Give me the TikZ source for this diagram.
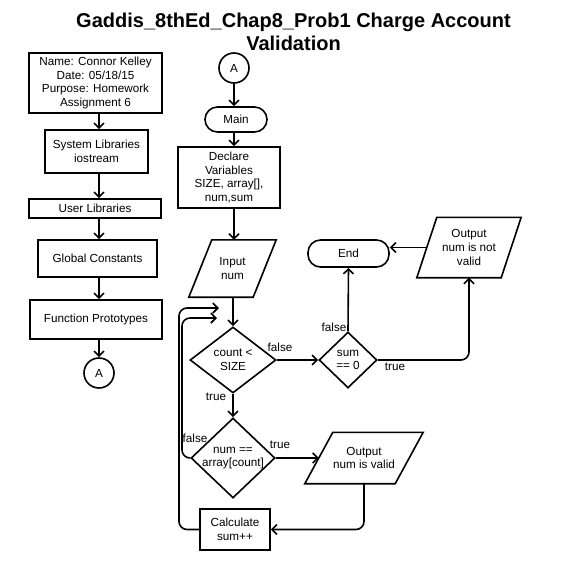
\documentclass[tikz,border=0pt]{standalone}
\usepackage{fontspec}
\setmainfont{Liberation Sans}
\usetikzlibrary{shapes.geometric,arrows.meta}
\newcommand{\bodyfont}{\fontsize{11.7}{13.8}\selectfont}
\newcommand{\pgram}[7]{%
  \node[txt, minimum width=#4, minimum height=#5] (#1) at (#2,#3) {#7};
  \draw[shapeline] ([xshift=-#6/2]#1.south west) -- ([xshift=-#6/2]#1.south east)
     -- ([xshift=#6/2]#1.north east) -- ([xshift=#6/2]#1.north west) -- cycle;
}
\tikzset{
  shapeline/.style={line width=1.6pt, line join=miter},
  base/.style={draw, line width=1.6pt, inner sep=0pt, align=center, font=\bodyfont},
  box/.style={base, rectangle},
  term/.style={base, rectangle, rounded corners=12.5pt},
  conn/.style={base, circle, minimum size=30pt},
  dia/.style={draw, line width=1.6pt, diamond, inner sep=0pt},
  txt/.style={inner sep=0pt, align=center, font=\bodyfont},
  lab/.style={inner sep=0pt, font=\bodyfont},
  arr/.style={line width=1.6pt, rounded corners=8pt, -{Straight Barb[length=5pt,width=10pt,line width=1.6pt]}},
}
\begin{document}
\begin{tikzpicture}[x=1pt,y=-1pt]
\useasboundingbox (0,0) rectangle (565,570);
% title
\node[align=center, inner sep=0pt, font=\fontsize{20}{22.5}\selectfont\bfseries] (title) at (293.5,32)
  {Gaddis\_8thEd\_Chap8\_Prob1 Charge Account\\Validation};
% left column
\coordinate (lx) at (99,0);
\node[box, minimum width=133, minimum height=60] (b1) at (95.5,83)
  {Name: Connor Kelley\\Date: 05/18/15\\Purpose: Homework\\Assignment 6};
\node[box, minimum width=103, minimum height=43] (b2) at (96.5,151.5) {System Libraries\\iostream};
\node[box, minimum width=132, minimum height=19] (b3) at (95,208.5) {User Libraries};
\node[box, minimum width=119, minimum height=37] (b4) at (97.5,258.5) {Global Constants};
\node[box, minimum width=132, minimum height=39] (b5) at (96,319.5) {Function Prototypes};
\node[conn] (A2) at (99,373) {A};
\draw[arr] (b1.south -| lx) -- (b2.north -| lx);
\draw[arr] (b2.south -| lx) -- (b3.north -| lx);
\draw[arr] (b3.south -| lx) -- (b4.north -| lx);
\draw[arr] (b4.south -| lx) -- (b5.north -| lx);
\draw[arr] (b5.south -| lx) -- (A2.north);
% main column
\coordinate (mx) at (234,0);
\node[conn] (A1) at (234,68) {A};
\node[term, minimum width=62, minimum height=25] (main) at (236,119.5) {Main};
\node[box, minimum width=102, minimum height=61] (decl) at (229,177.5)
  {Declare\\Variables\\SIZE, array[],\\num,sum};
\pgram{inp}{232.5}{268.5}{64}{57}{23}{Input\\num}
\node[dia, minimum width=86, minimum height=66] (d1) at (233,360) {};
\node[txt] at (d1) {count <\\SIZE};
\node[dia, minimum width=58, minimum height=56] (d2) at (348,360) {};
\node[txt] at (d2) {sum\\== 0};
\node[term, minimum width=81, minimum height=27] (end) at (348.5,253.5) {End};
\pgram{o1}{469}{247.5}{84}{60}{20}{Output\\num is not\\valid}
\node[dia, minimum width=84, minimum height=80] (d3) at (233,458) {};
\node[txt] at (d3) {num ==\\array[count]};
\pgram{o2}{364}{458}{90}{51}{28}{Output\\num is valid}
\node[box, minimum width=70, minimum height=41] (calc) at (235,529.5) {Calculate\\sum++};
\coordinate (l1) at (219,308);
\coordinate (l2) at (217,318);
% spine
\draw[arr] (A1.south -| mx) -- (main.north -| mx);
\draw[arr] (main.south -| mx) -- (decl.north -| mx);
\draw[arr] (decl.south -| mx) -- (inp.north -| mx);
\draw[arr] (inp.south -| d1.north) -- (d1.north);
\draw[arr] (d1.south) -- (d3.north);
% branches
\draw[arr] (d1.east) -- (d2.west);
\draw[arr] (d2.north) -- (end.south);
\draw[arr] (d2.east) -| (o1.south);
\draw[arr] (o1.west) -- (o1.west -| end.east);
\draw[arr] (d3.east) -- (o2.west);
\draw[arr] (o2.south) |- (calc.east);
\draw[arr] (calc.west) -- (179,529.5) -- (179,308) -- (l1);
\draw[arr] (d3.west) -- (182,458) -- (182,318) -- (l2);
% labels
\node[lab] at (280,347) {false};
\node[lab] at (216,397) {true};
\node[lab] at (334,327) {false};
\node[lab] at (395,367) {true};
\node[lab] at (195,438) {false};
\node[lab] at (280,445) {true};
\end{tikzpicture}
\end{document}
